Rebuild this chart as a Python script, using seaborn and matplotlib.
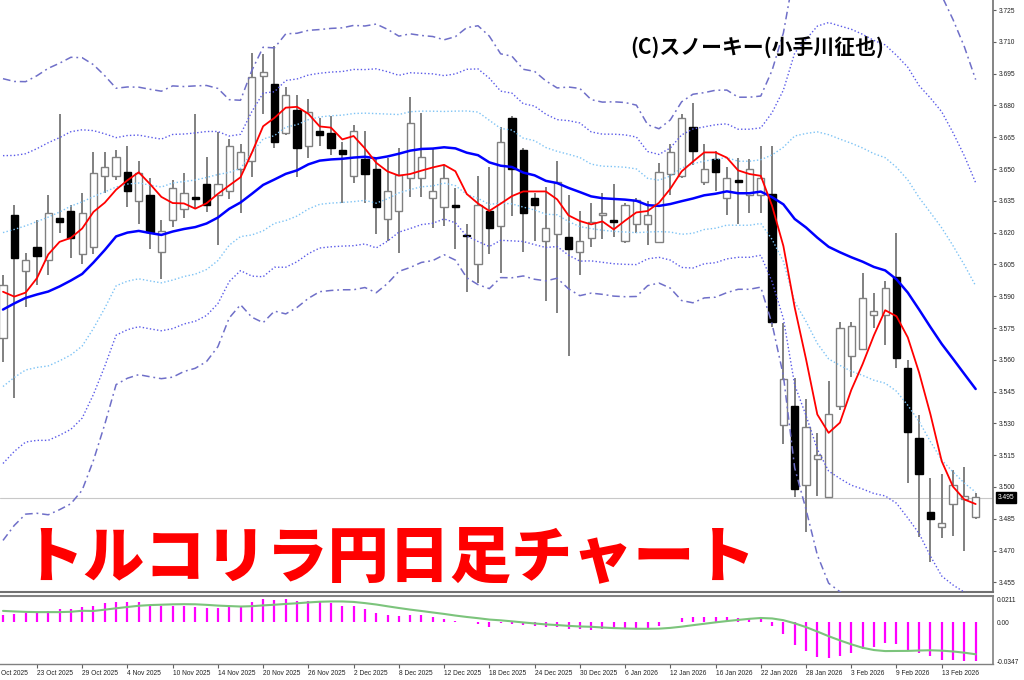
import numpy as np
import pandas as pd
import matplotlib
matplotlib.use("Agg")
import matplotlib.pyplot as plt
import seaborn as sns

# ---------------- data ----------------
opens = [3.5703, 3.6283, 3.6019, 3.6132, 3.6071, 3.6269, 3.6302, 3.6099, 3.6132, 3.6467,
         3.6467, 3.6486, 3.6349, 3.6377, 3.6108, 3.6259, 3.6311, 3.6368, 3.6429, 3.6377,
         3.6396, 3.6500, 3.6538, 3.6939, 3.6901, 3.6670, 3.6778, 3.6608, 3.6679, 3.6670,
         3.6589, 3.6467, 3.6547, 3.6500, 3.6264, 3.6302, 3.6457, 3.6457, 3.6363, 3.6321,
         3.6330, 3.6184, 3.6052, 3.6302, 3.6231, 3.6740, 3.6589, 3.6363, 3.6160, 3.6193,
         3.6179, 3.6108, 3.6174, 3.6283, 3.6259, 3.6160, 3.6240, 3.6240, 3.6156, 3.6476,
         3.6467, 3.6698, 3.6439, 3.6547, 3.6363, 3.6448, 3.6377, 3.6377, 3.6382, 3.5292,
         3.5382, 3.5009, 3.5132, 3.4953, 3.5382, 3.5618, 3.5651, 3.5811, 3.5811, 3.5990,
         3.5561, 3.5231, 3.4882, 3.4811, 3.4920, 3.4943, 3.4858]
highs = [3.6000, 3.6330, 3.6104, 3.6259, 3.6377, 3.6759, 3.6330, 3.6387, 3.6580, 3.6580,
         3.6589, 3.6608, 3.6538, 3.6457, 3.6259, 3.6448, 3.6481, 3.6759, 3.6556, 3.6674,
         3.6641, 3.6618, 3.7047, 3.7042, 3.7080, 3.6887, 3.6849, 3.6830, 3.6740, 3.6750,
         3.6627, 3.6707, 3.6679, 3.6552, 3.6552, 3.6599, 3.6840, 3.6764, 3.6599, 3.6519,
         3.6410, 3.6240, 3.6467, 3.6509, 3.6698, 3.6750, 3.6599, 3.6387, 3.6415, 3.6538,
         3.6377, 3.6302, 3.6339, 3.6387, 3.6429, 3.6339, 3.6363, 3.6349, 3.6528, 3.6618,
         3.6759, 3.6811, 3.6618, 3.6585, 3.6509, 3.6552, 3.6547, 3.6608, 3.6608, 3.5773,
         3.5514, 3.5415, 3.5255, 3.5500, 3.5778, 3.5778, 3.6009, 3.5915, 3.5972, 3.6198,
         3.5599, 3.5339, 3.5042, 3.5061, 3.5080, 3.5094, 3.4972]
lows = [3.5589, 3.5420, 3.5849, 3.5953, 3.6000, 3.6198, 3.6080, 3.6052, 3.6099, 3.6387,
        3.6448, 3.6321, 3.6240, 3.6123, 3.5981, 3.6226, 3.6269, 3.6316, 3.6297, 3.6141,
        3.6358, 3.6292, 3.6462, 3.6759, 3.6599, 3.6660, 3.6462, 3.6552, 3.6608, 3.6566,
        3.6339, 3.6434, 3.6339, 3.6193, 3.6160, 3.6104, 3.6368, 3.6368, 3.6222, 3.6231,
        3.6123, 3.5920, 3.5962, 3.6099, 3.6009, 3.6278, 3.6108, 3.6160, 3.5877, 3.5821,
        3.5618, 3.6000, 3.6132, 3.6170, 3.6179, 3.6151, 3.6198, 3.6141, 3.6151, 3.6377,
        3.6457, 3.6519, 3.6424, 3.6396, 3.6283, 3.6240, 3.6292, 3.6292, 3.5755, 3.5203,
        3.4953, 3.4788, 3.4957, 3.4953, 3.5363, 3.5519, 3.5646, 3.5750, 3.5670, 3.5561,
        3.5019, 3.4764, 3.4646, 3.4759, 3.4769, 3.4698, 3.4849]
closes = [3.5953, 3.6080, 3.6071, 3.6089, 3.6292, 3.6250, 3.6174, 3.6292, 3.6481, 3.6509,
          3.6556, 3.6396, 3.6481, 3.6203, 3.6207, 3.6410, 3.6387, 3.6358, 3.6330, 3.6429,
          3.6608, 3.6580, 3.6934, 3.6957, 3.6627, 3.6849, 3.6599, 3.6769, 3.6660, 3.6599,
          3.6571, 3.6679, 3.6476, 3.6321, 3.6396, 3.6472, 3.6717, 3.6556, 3.6396, 3.6457,
          3.6321, 3.6182, 3.6330, 3.6222, 3.6627, 3.6500, 3.6292, 3.6330, 3.6222, 3.6439,
          3.6123, 3.6160, 3.6250, 3.6292, 3.6250, 3.6330, 3.6354, 3.6283, 3.6486, 3.6580,
          3.6740, 3.6585, 3.6500, 3.6486, 3.6457, 3.6439, 3.6500, 3.6457, 3.5778, 3.5509,
          3.4990, 3.5283, 3.5151, 3.5344, 3.5750, 3.5759, 3.5891, 3.5830, 3.5939, 3.5608,
          3.5259, 3.5061, 3.4849, 3.4830, 3.5009, 3.4957, 3.4953]

# indicator values of the first bars (their windows start before the visible range)
ma5_head = [3.5921, 3.5898, 3.5917, 3.5985]
ma21_head = [3.5837, 3.5866, 3.5892, 3.5908, 3.5922, 3.5946, 3.5974, 3.6005, 3.6059, 3.6118,
             3.6182, 3.6200, 3.6208, 3.6198, 3.6189, 3.6205, 3.6217, 3.6226, 3.6243, 3.6271]
sd21_head = [0.0363, 0.0349, 0.0340, 0.0344, 0.0351, 0.0351, 0.0351, 0.0340, 0.0311, 0.0274,
             0.0233, 0.0229, 0.0226, 0.0226, 0.0226, 0.0229, 0.0224, 0.0222, 0.0217, 0.0203]

macd_hist = [0.0066, 0.0075, 0.0081, 0.0087, 0.0102, 0.0117, 0.0117, 0.0135, 0.0150, 0.0171,
             0.0186, 0.0186, 0.0186, 0.0159, 0.0147, 0.0147, 0.0147, 0.0141, 0.0126, 0.0126,
             0.0147, 0.0150, 0.0186, 0.0211, 0.0201, 0.0211, 0.0195, 0.0195, 0.0180, 0.0171,
             0.0150, 0.0147, 0.0117, 0.0087, 0.0066, 0.0057, 0.0066, 0.0066, 0.0051, 0.0033,
             0.0015, 0.0003, -0.0012, -0.0045, -0.0006, -0.0015, -0.0024, -0.0030, -0.0045, -0.0039,
             -0.0060, -0.0063, -0.0069, -0.0063, -0.0063, -0.0054, -0.0054, -0.0048, -0.0030, 0.0003,
             0.0036, 0.0051, 0.0051, 0.0051, 0.0051, 0.0039, 0.0042, 0.0036, -0.0033, -0.0105,
             -0.0204, -0.0255, -0.0309, -0.0324, -0.0303, -0.0273, -0.0243, -0.0219, -0.0189, -0.0195,
             -0.0249, -0.0279, -0.0303, -0.0335, -0.0338, -0.0343, -0.0347]
signal_head = [0.0104, 0.0099, 0.0095, 0.0093, 0.0093, 0.0093, 0.0096, 0.0105]

price_ticks = [3.725, 3.710, 3.695, 3.680, 3.665, 3.650, 3.635, 3.620, 3.605, 3.590,
               3.575, 3.560, 3.545, 3.530, 3.515, 3.500, 3.485, 3.470, 3.455]
sub_ticks = [0.0211, 0.0, -0.0347]
sub_tick_labels = ["0.0211", "0.00", "-0.0347"]
bid = 3.495

date_pos = [3, 7, 11, 15, 19, 23, 27, 31, 35, 39, 43, 47, 51, 55, 59, 63, 67, 71, 75, 79, 83]
date_labels = ["23 Oct 2025", "29 Oct 2025", "4 Nov 2025", "10 Nov 2025", "14 Nov 2025",
               "20 Nov 2025", "26 Nov 2025", "2 Dec 2025", "8 Dec 2025", "12 Dec 2025",
               "18 Dec 2025", "24 Dec 2025", "30 Dec 2025", "6 Jan 2026", "12 Jan 2026",
               "16 Jan 2026", "22 Jan 2026", "28 Jan 2026", "3 Feb 2026", "9 Feb 2026",
               "13 Feb 2026"]
first_label = "Oct 2025"   # visible part of the first (cut) date label
title = "トルコリラ円日足チャート"
credit = "(C)スノーキー(小手川征也)"

# ---------------- derived indicators ----------------
df = pd.DataFrame({"o": opens, "h": highs, "l": lows, "c": closes})
df["i"] = np.arange(len(df))
ma5 = df["c"].rolling(5).mean().to_numpy()
ma5[:len(ma5_head)] = ma5_head
ma21 = df["c"].rolling(21).mean().to_numpy()
ma21[:len(ma21_head)] = ma21_head
sd21 = df["c"].rolling(21).std(ddof=0).to_numpy()
sd21[:len(sd21_head)] = sd21_head
df["ma5"] = ma5
df["ma21"] = ma21
for k in (1, 2, 3):
    df[f"up{k}"] = ma21 + k * sd21
    df[f"dn{k}"] = ma21 - k * sd21
df["hist"] = macd_hist
sig = df["hist"].rolling(9).mean().to_numpy()
sig[:len(signal_head)] = signal_head
df["sig"] = sig

# ---------------- drawing ----------------
sns.set_theme(style="white")
plt.rcParams["font.family"] = ["Noto Sans CJK JP", "DejaVu Sans"]

W, H = 1024, 680
fig = plt.figure(figsize=(W / 100, H / 100), dpi=100)
fig.patch.set_facecolor("white")
ax = fig.add_axes([0, 1 - 592 / H, 993 / W, 592 / H])
ax2 = fig.add_axes([0, 1 - 664 / H, 993 / W, (664 - 596) / H])

step = 11.31
xlim = (-3 / step, (993 - 3) / step)

# price line
ax.axhline(bid, color="#C8C8C8", lw=0.8, zorder=1)

# candles
x = df["i"].to_numpy()
bull = (df["c"] >= df["o"]).to_numpy()
ax.vlines(x, df["l"], df["h"], color="#808080", lw=1.4, zorder=2)
body_lo = np.minimum(df["o"], df["c"]).to_numpy()
body_h = np.maximum(np.abs(df["c"] - df["o"]), 0.0009).to_numpy()
ax.bar(x[bull], body_h[bull], bottom=body_lo[bull], width=0.64,
       color="white", edgecolor="#808080", linewidth=1.0, zorder=3)
ax.bar(x[~bull], body_h[~bull], bottom=body_lo[~bull], width=0.64,
       color="black", edgecolor="black", linewidth=1.0, zorder=3)

# bands
band_styles = {
    1: dict(color="#7DC3F5", lw=1.0, linestyle=(0, (1, 1.6))),
    2: dict(color="#5A5AE8", lw=1.0, linestyle=(0, (1, 1.6))),
    3: dict(color="#6F6FC8", lw=1.1, linestyle=(0, (5, 2.5, 1.2, 2.5))),
}
for k, st in band_styles.items():
    for col in (f"up{k}", f"dn{k}"):
        sns.lineplot(data=df, x="i", y=col, ax=ax, zorder=4, **st)

sns.lineplot(data=df, x="i", y="ma21", ax=ax, color="#0000FF", lw=1.8, zorder=5)
sns.lineplot(data=df, x="i", y="ma5", ax=ax, color="#FF0000", lw=1.3, zorder=6)

ax.set_xlim(*xlim)
ax.set_ylim(3.45047, 3.72972)
ax.set_xlabel("")
ax.set_ylabel("")
ax.set_xticks([])
ax.yaxis.tick_right()
ax.set_yticks(price_ticks)
ax.set_yticklabels([f"{t:.3f}" for t in price_ticks])
ax.tick_params(axis="y", right=True, length=2.5, width=0.8, color="#606060",
               labelsize=4.8, labelcolor="#222222", pad=2)
for t in ax.get_yticklabels():
    t.set_fontfamily("Liberation Sans")
for s in ("top", "left"):
    ax.spines[s].set_visible(False)
ax.spines["right"].set_color("#707070")
ax.spines["right"].set_linewidth(1.2)
ax.spines["bottom"].set_color("#707070")
ax.spines["bottom"].set_linewidth(1.5)
ax.set_facecolor("white")

ax.text(1.0 + 5 / 993, bid, f"{bid:.3f}", transform=ax.get_yaxis_transform(),
        ha="left", va="center", fontsize=4.8, color="white", family="Liberation Sans",
        bbox=dict(boxstyle="square,pad=0.25", fc="black", ec="black"), zorder=10,
        clip_on=False)

# sub panel
ax2.vlines(x, 0, df["hist"], color="#FF00FF", lw=1.6, zorder=2)
sns.lineplot(data=df, x="i", y="sig", ax=ax2, color="#7CC47C", lw=1.5, zorder=3)
ax2.set_xlim(*xlim)
ax2.set_ylim(-0.0374, 0.0238)
ax2.set_xlabel("")
ax2.set_ylabel("")
ax2.yaxis.tick_right()
ax2.set_yticks(sub_ticks)
ax2.set_yticklabels(sub_tick_labels)
ax2.tick_params(axis="y", right=True, length=0, labelsize=4.8, labelcolor="#222222", pad=3)
ax2.set_xticks(date_pos)
ax2.set_xticklabels(date_labels)
ax2.tick_params(axis="x", bottom=True, length=3, width=0.8, color="#606060",
                labelsize=4.8, labelcolor="#222222", pad=1)
for t in ax2.get_xticklabels():
    t.set_ha("left")
    t.set_fontfamily("Liberation Sans")
for t in ax2.get_yticklabels():
    t.set_fontfamily("Liberation Sans")
ax2.text(1 / 993, -5.6 / 68, first_label, transform=ax2.transAxes,
         ha="left", va="top", fontsize=4.8, color="#222222", family="Liberation Sans",
         clip_on=False)
ax2.spines["left"].set_visible(False)
for s in ("top", "right", "bottom"):
    ax2.spines[s].set_color("#808080")
ax2.spines["top"].set_linewidth(1.5)
ax2.spines["right"].set_linewidth(1.2)
ax2.spines["bottom"].set_linewidth(1.0)
ax2.set_facecolor("white")

# texts
fig.text(630 / W, 1 - 48 / H, credit, ha="left", va="center", fontsize=15,
         fontweight="bold", color="black", family=["Noto Sans CJK JP", "DejaVu Sans"])
fig.text(22 / W, 1 - 558 / H, title, ha="left", va="center", fontsize=44,
         fontweight="black", color="#FF0000", family=["Noto Sans CJK JP", "DejaVu Sans"])

fig.savefig("out.png", dpi=100, facecolor="white")
